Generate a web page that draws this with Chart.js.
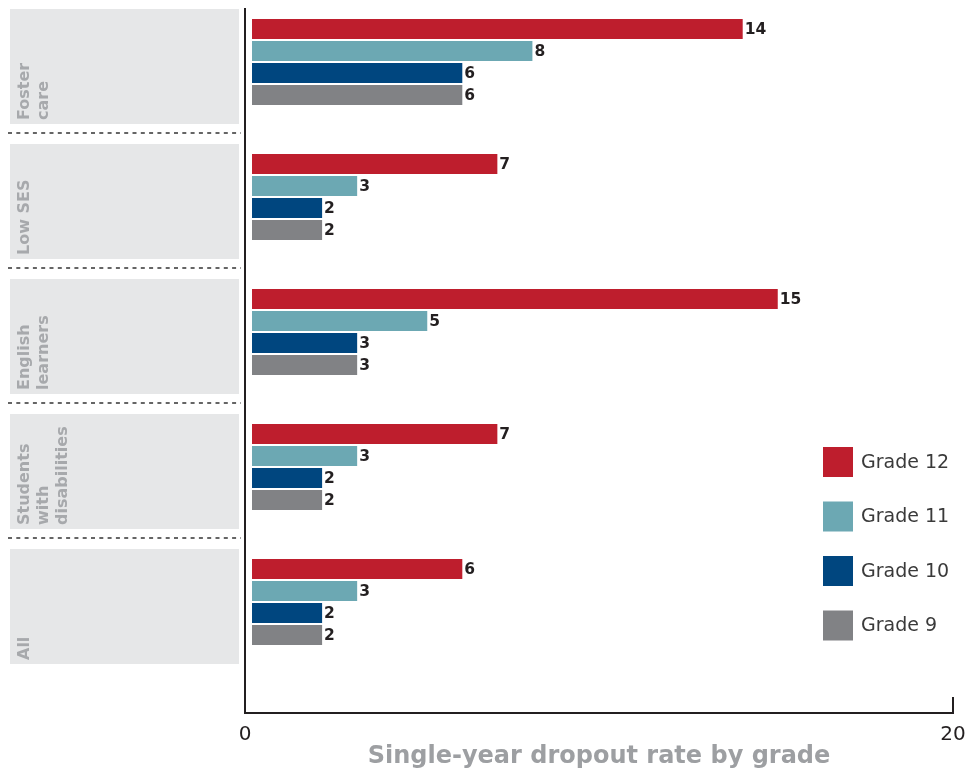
<!DOCTYPE html>
<html>
<head>
<meta charset="utf-8">
<script src="https://cdn.jsdelivr.net/npm/chart.js@4.4.0/dist/chart.umd.min.js"></script>
<style>
  html, body { margin: 0; padding: 0; background: #fff; overflow: hidden; }
  #wrap { position: absolute; left: 0; top: -20px; width: 968px; height: 793px; }
</style>
</head>
<body>
<div id="wrap"><canvas id="chart" width="968" height="793"></canvas></div>
<script>
const categories = [['Foster', 'care'], ['Low SES'], ['English', 'learners'], ['Students', 'with', 'disabilities'], ['All']];
const grade12 = [14, 7, 15, 7, 6];
const grade11 = [8, 3, 5, 3, 3];
const grade10 = [6, 2, 3, 2, 2];
const grade9 = [6, 2, 3, 2, 2];
const seriesNames = ['Grade 12', 'Grade 11', 'Grade 10', 'Grade 9'];
const seriesColors = ['#be1e2d', '#6ca8b3', '#00467f', '#818285'];
const tickLabels = ['0', '20'];
const axisTitle = 'Single-year dropout rate by grade';

const INK = '#231f20';

// boxes, dashed separators, rotated category names, value labels, axis frame, legend
const decor = {
  id: 'decor',
  beforeDatasetsDraw(chart) {
    const { ctx, scales: { y } } = chart;
    ctx.save();
    const n = chart.data.labels.length;
    for (let i = 0; i < n; i++) {
      const cy = y.getPixelForValue(i) + 4.5;
      const top = cy - 57.5, bottom = cy + 57.5;
      ctx.fillStyle = '#e6e7e8';
      ctx.fillRect(10, top, 229, 115);

      ctx.save();
      ctx.translate(0, bottom - 4);
      ctx.rotate(-Math.PI / 2);
      ctx.fillStyle = '#a7a9ac';
      ctx.font = 'bold 16px "DejaVu Sans"';
      ctx.textAlign = 'left';
      ctx.textBaseline = 'alphabetic';
      chart.data.labels[i].forEach((line, k) => ctx.fillText(line, 0, 29 + 19 * k));
      ctx.restore();

      if (i < n - 1) {
        const sy = (y.getPixelForValue(i) + y.getPixelForValue(i + 1)) / 2 + 3.5;
        ctx.strokeStyle = '#333';
        ctx.lineWidth = 1.6;
        ctx.setLineDash([4, 4.3]);
        ctx.beginPath();
        ctx.moveTo(8, sy);
        ctx.lineTo(241, sy);
        ctx.stroke();
        ctx.setLineDash([]);
      }
    }
    ctx.restore();
  },
  afterDatasetsDraw(chart) {
    const { ctx } = chart;
    ctx.save();
    ctx.fillStyle = INK;
    ctx.font = 'bold 15.5px "DejaVu Sans"';
    ctx.textAlign = 'left';
    ctx.textBaseline = 'middle';
    chart.data.datasets.forEach((ds, i) => {
      chart.getDatasetMeta(i).data.forEach((bar, j) => {
        ctx.fillText(String(ds.data[j]), bar.x + 2, bar.y + 1);
      });
    });
    ctx.restore();
  },
  afterDraw(chart) {
    const { ctx, chartArea: a } = chart;
    const base = 733;
    ctx.save();
    ctx.strokeStyle = INK;
    ctx.lineWidth = 2;
    ctx.beginPath();
    ctx.moveTo(a.left, 28);
    ctx.lineTo(a.left, base);
    ctx.lineTo(a.right, base);
    ctx.lineTo(a.right, base - 16);
    ctx.stroke();

    ctx.font = '19px "DejaVu Sans"';
    ctx.textAlign = 'left';
    ctx.textBaseline = 'middle';
    chart.data.datasets.forEach((ds, i) => {
      const top = 467 + 54.5 * i;
      ctx.fillStyle = ds.backgroundColor;
      ctx.fillRect(823, top, 30, 30);
      ctx.fillStyle = '#3a3a3a';
      ctx.fillText(ds.label, 861, top + 16);
    });
    ctx.restore();
  }
};

new Chart(document.getElementById('chart'), {
  type: 'bar',
  plugins: [decor],
  data: {
    labels: categories,
    datasets: [grade12, grade11, grade10, grade9].map((values, i) => ({
      label: seriesNames[i],
      data: values,
      backgroundColor: seriesColors[i],
      borderWidth: 0,
      categoryPercentage: 0.652,
      barPercentage: 0.909,
    })),
  },
  options: {
    indexAxis: 'y',
    responsive: false,
    animation: false,
    layout: {
      padding: { left: 245, right: 15, top: 14.5, bottom: 0 },
    },
    scales: {
      y: {
        display: false,
        offset: true,
      },
      x: {
        min: -0.2,
        max: 20,
        grid: { display: false, drawTicks: false },
        border: { display: false },
        afterBuildTicks: (scale) => {
          scale.ticks = [{ value: scale.min }, { value: scale.max }];
        },
        afterFit: (scale) => {
          scale.height = 103.5;
        },
        ticks: {
          // a tall line box pushes the labels down without widening the side padding
          padding: 2,
          maxRotation: 0,
          color: INK,
          font: { family: 'DejaVu Sans', size: 20, lineHeight: '126px' },
          callback: (_value, index) => tickLabels[index],
        },
        title: {
          display: true,
          text: axisTitle,
          color: '#9d9fa2',
          font: { family: 'DejaVu Sans', size: 24, weight: 'bold' },
          padding: { top: 0, bottom: 2 },
        },
      },
    },
    plugins: {
      legend: { display: false },
      tooltip: { enabled: false },
    },
  },
});
</script>
</body>
</html>
